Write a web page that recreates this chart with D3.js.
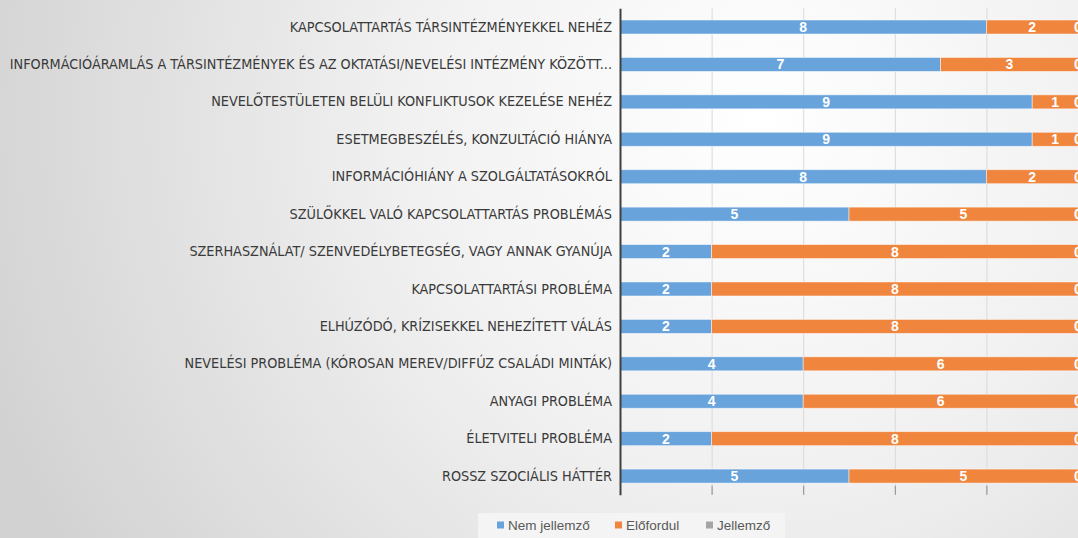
<!DOCTYPE html>
<html lang="hu">
<head>
    <meta charset="UTF-8">
    <title>Problémák</title>
    <script src="https://d3js.org/d3.v7.min.js"></script>
    <style>
        * { margin: 0; padding: 0; box-sizing: border-box; }
        body { width: 1078px; height: 538px; overflow: hidden; background: #fff; }
        svg { display: block; }
    </style>
</head>
<body>
    <div id="chart"></div>
    <script>
        const categories = [
            "KAPCSOLATTARTÁS TÁRSINTÉZMÉNYEKKEL NEHÉZ",
            "INFORMÁCIÓÁRAMLÁS A TÁRSINTÉZMÉNYEK ÉS AZ OKTATÁSI/NEVELÉSI INTÉZMÉNY KÖZÖTT...",
            "NEVELŐTESTÜLETEN BELÜLI KONFLIKTUSOK KEZELÉSE NEHÉZ",
            "ESETMEGBESZÉLÉS, KONZULTÁCIÓ HIÁNYA",
            "INFORMÁCIÓHIÁNY A SZOLGÁLTATÁSOKRÓL",
            "SZÜLŐKKEL VALÓ KAPCSOLATTARTÁS PROBLÉMÁS",
            "SZERHASZNÁLAT/ SZENVEDÉLYBETEGSÉG, VAGY ANNAK GYANÚJA",
            "KAPCSOLATTARTÁSI PROBLÉMA",
            "ELHÚZÓDÓ, KRÍZISEKKEL NEHEZÍTETT VÁLÁS",
            "NEVELÉSI PROBLÉMA (KÓROSAN MEREV/DIFFÚZ CSALÁDI MINTÁK)",
            "ANYAGI PROBLÉMA",
            "ÉLETVITELI PROBLÉMA",
            "ROSSZ SZOCIÁLIS HÁTTÉR"
        ];
        const seriesNames = ["Nem jellemző", "Előfordul", "Jellemző"];
        const nemJellemzo = [8, 7, 9, 9, 8, 5, 2, 2, 2, 4, 4, 2, 5];
        const elofordul   = [2, 3, 1, 1, 2, 5, 8, 8, 8, 6, 6, 8, 5];
        const jellemzo    = [0, 0, 0, 0, 0, 0, 0, 0, 0, 0, 0, 0, 0];
        const xTicks = [0, 2, 4, 6, 8, 10, 12];

        const colors = ["#68a3dc", "#f0853e", "#a5a5a5"];

        const W = 1078, H = 538;
        const plotLeft = 620, plotTop = 8.3, plotBottom = 494.8;

        const rows = categories.map((c, i) => ({
            cat: c,
            [seriesNames[0]]: nemJellemzo[i],
            [seriesNames[1]]: elofordul[i],
            [seriesNames[2]]: jellemzo[i]
        }));
        const stacked = d3.stack().keys(seriesNames)(rows);

        const svg = d3.select("#chart").append("svg")
            .attr("width", W)
            .attr("height", H);

        // background gradient
        const defs = svg.append("defs");
        const grad = defs.append("radialGradient")
            .attr("id", "bg")
            .attr("gradientUnits", "userSpaceOnUse")
            .attr("cx", 760).attr("cy", 120).attr("r", 820);
        grad.append("stop").attr("offset", "0").attr("stop-color", "#ffffff");
        grad.append("stop").attr("offset", "0.45").attr("stop-color", "#f0f0f0");
        grad.append("stop").attr("offset", "1").attr("stop-color", "#d2d2d2");
        svg.append("rect").attr("width", W).attr("height", H).attr("fill", "url(#bg)");

        const x = d3.scaleLinear()
            .domain([0, 10])
            .range([plotLeft, 1078]);

        const y = d3.scaleBand()
            .domain(categories)
            .range([plotTop, plotBottom])
            .paddingInner(0.626)
            .paddingOuter(0.313);

        // gridlines
        svg.append("g")
            .attr("transform", `translate(0,${plotBottom})`)
            .call(d3.axisBottom(x).tickValues(xTicks.slice(1)).tickSize(-(plotBottom - plotTop)).tickFormat(""))
            .call(g => g.select(".domain").remove())
            .selectAll("line")
            .attr("stroke", "#d9d9d9")
            .attr("stroke-width", 1);

        // small tick marks at the bottom
        svg.append("g")
            .attr("transform", `translate(0,${plotBottom})`)
            .call(d3.axisBottom(x).tickValues(xTicks.slice(1)).tickSize(0).tickSizeInner(-9).tickFormat(""))
            .call(g => g.select(".domain").remove())
            .selectAll("line")
            .attr("stroke", "#8c8c8c")
            .attr("stroke-width", 1);

        // bars
        const layer = svg.append("g").selectAll("g")
            .data(stacked)
            .join("g")
            .attr("fill", (d, i) => colors[i]);

        layer.selectAll("rect")
            .data(d => d)
            .join("rect")
            .attr("x", d => x(d[0]))
            .attr("y", d => y(d.data.cat))
            .attr("width", d => x(d[1]) - x(d[0]))
            .attr("height", y.bandwidth())
            .attr("stroke", "rgba(255,255,255,0.6)")
            .attr("stroke-width", 0.8);

        // value labels
        layer.selectAll("text")
            .data(d => d)
            .join("text")
            .attr("x", d => (x(d[0]) + x(d[1])) / 2)
            .attr("y", d => y(d.data.cat) + y.bandwidth() / 2)
            .attr("dy", "0.36em")
            .attr("text-anchor", "middle")
            .attr("fill", "#ffffff")
            .style("font-family", "'Liberation Sans', Arial, sans-serif")
            .style("font-weight", "bold")
            .style("font-size", "14px")
            .text(d => d[1] - d[0]);

        // y axis
        const yAxis = svg.append("g")
            .attr("transform", `translate(${plotLeft},0)`)
            .call(d3.axisLeft(y).tickSize(0).tickPadding(8));
        yAxis.select(".domain")
            .attr("stroke", "#404040")
            .attr("stroke-width", 2);
        yAxis.selectAll("text")
            .attr("fill", "#3a3a3a")
            .style("font-family", "'Liberation Sans Narrow', 'DejaVu Sans Condensed', Arial, sans-serif")
            .style("font-size", "14.3px");

        // legend
        const legend = svg.append("g");
        legend.append("rect")
            .attr("x", 478).attr("y", 513)
            .attr("width", 307).attr("height", 25)
            .attr("fill", "#f4f4f4");
        const legendX = [497, 615, 706];
        seriesNames.forEach((name, i) => {
            const g = legend.append("g").attr("transform", `translate(${legendX[i]},525)`);
            g.append("rect")
                .attr("x", 0).attr("y", -3.5)
                .attr("width", 7).attr("height", 7)
                .attr("fill", colors[i]);
            g.append("text")
                .attr("x", 11).attr("dy", "0.36em")
                .attr("fill", "#595959")
                .style("font-family", "'Liberation Sans', Arial, sans-serif")
                .style("font-size", "13.5px")
                .text(name);
        });
    </script>
</body>
</html>
